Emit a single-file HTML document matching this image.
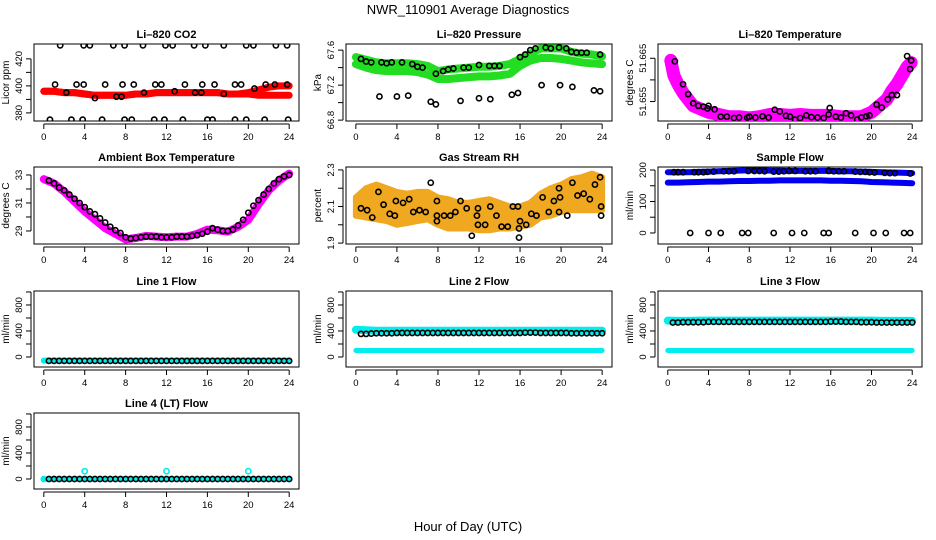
<!DOCTYPE html>
<html><head><meta charset="utf-8">
<style>
html,body{margin:0;padding:0;background:#fff;}
svg{display:block;font-family:"Liberation Sans",Arial,sans-serif;}
</style></head>
<body>
<svg id="chart" width="936" height="540" viewBox="0 0 936 540" xmlns="http://www.w3.org/2000/svg">
<text x="468" y="14" text-anchor="middle" font-size="13">NWR_110901  Average Diagnostics</text>
<text x="468" y="531" text-anchor="middle" font-size="13">Hour of Day (UTC)</text>
</svg>
<script>
// ---- data ----
const hours = [0,1,2,3,4,5,6,7,8,9,10,11,12,13,14,15,16,17,18,19,20,21,22,23,24];
const halfHours = [0.5,1,1.5,2,2.5,3,3.5,4,4.5,5,5.5,6,6.5,7,7.5,8,8.5,9,9.5,10,10.5,11,11.5,12,12.5,13,13.5,14,14.5,15,15.5,16,16.5,17,17.5,18,18.5,19,19.5,20,20.5,21,21.5,22,22.5,23,23.5,24];
const xTicks = [0,4,8,12,16,20,24];

const co2BandA = [396,396,395,395,394,393,393,393,393,394,394,395,395,395,395,395,395,395,394,394,395,397,399,400,400];
const co2BandB = [396,396,395,395,394,393,393,393,393,394,394,395,395,395,395,395,395,395,394,394,394,393,393,393,393];
const co2PtH = [1.6,3.9,4.5,6.8,7.9,9.7,11.9,12.6,14.7,15.8,17.6,19.8,20.5,22.7,23.8, 0.6,2.7,3.8,5.7,7.9,8.6,10.8,11.8,13.6,16,16.5,18.7,19.8,21.6,23.9, 1.1,2.2,3.2,3.9,5.0,6.0,7.1,7.6,7.7,8.8,9.8,10.9,11.5,12.8,13.8,14.8,15.4,15.5,16.7,17.6,18.7,19.3,20.6,21.7,22.6,23.8];
const co2PtV = [430,430,430,430,430,430,430,430,430,430,430,430,430,430,430, 375,375,375,375,375,375,375,375,375,375,375,375,375,375,375, 401,395,401,401,391,401,392,392,401,401,395,401,401,396,401,395,395,401,401,394,401,401,398,401,401,401];

const presUpper = [67.52,67.49,67.46,67.45,67.45,67.45,67.44,67.42,67.36,67.38,67.39,67.40,67.41,67.41,67.42,67.44,67.50,67.56,67.62,67.62,67.62,67.58,67.56,67.55,67.53];
const presLower = [67.44,67.40,67.37,67.36,67.36,67.36,67.35,67.32,67.27,67.27,67.28,67.29,67.30,67.30,67.31,67.33,67.42,67.48,67.51,67.51,67.50,67.48,67.46,67.45,67.44];
const presPtH = [0.5,1.0,1.5,2.5,3.0,3.5,4.5,5.5,6.0,6.5,7.8,8.5,9.0,9.5,10.5,11.0,12.0,13.0,13.5,14.0,16.0,16.5,17.0,17.5,18.5,19.0,19.8,20.5,21.0,21.5,22.0,22.5,23.8, 2.3,4.0,5.1,7.3,7.8,10.2,12.0,13.1,15.2,15.8,18.1,19.9,21.1,23.2,23.8];
const presPtV = [67.5,67.47,67.46,67.46,67.45,67.46,67.46,67.44,67.41,67.40,67.33,67.36,67.38,67.39,67.40,67.40,67.43,67.42,67.42,67.42,67.52,67.55,67.60,67.62,67.63,67.62,67.63,67.62,67.58,67.57,67.57,67.57,67.55, 67.07,67.07,67.08,67.01,66.98,67.02,67.05,67.04,67.09,67.11,67.20,67.20,67.18,67.14,67.13];

const tempH = [0.3,0.6,1,1.5,2,2.5,3,3.5,4,5,6,7,8,9,10,11,12,13,14,15,16,17,18,19,19.5,20,20.5,21,21.5,22,22.5,23,23.5,23.9];
const tempV = [51.6645,51.661,51.659,51.657,51.6555,51.654,51.6535,51.653,51.6525,51.652,51.6515,51.6515,51.6512,51.6515,51.652,51.652,51.6518,51.652,51.6518,51.6518,51.6518,51.6515,51.6515,51.6515,51.652,51.6525,51.6535,51.6545,51.6555,51.6575,51.659,51.661,51.663,51.664];
const tempPtH = [0.7,1.5,2.0,2.5,3.0,3.5,3.9,4.0,4.6,5.2,5.8,6.5,7.0,7.8,8.0,8.6,9.3,9.9,10.5,11.0,11.6,12.0,12.5,13.0,13.6,14.1,14.7,15.3,15.8,15.9,16.5,17.0,17.5,18.0,18.6,19.0,19.5,19.8,20.5,21.0,21.6,22.0,22.5,23.5,23.8,23.9];
const tempPtV = [51.6643,51.659,51.6567,51.6546,51.654,51.6538,51.6534,51.654,51.6532,51.6515,51.6515,51.6512,51.6513,51.6513,51.6515,51.6513,51.6516,51.6513,51.6531,51.6527,51.6517,51.6515,51.6508,51.6512,51.6518,51.6514,51.6513,51.6512,51.652,51.6535,51.6515,51.6513,51.6523,51.6518,51.6508,51.6513,51.6516,51.6518,51.6543,51.6536,51.6555,51.6565,51.6565,51.6655,51.6625,51.6645];

const ambV = [32.7,32.4,31.8,31.1,30.4,29.8,29.2,28.8,28.4,28.5,28.65,28.6,28.55,28.6,28.6,28.8,29.1,29.05,28.95,29.3,29.8,30.9,31.9,32.6,33.1];
const ambPtV = [32.6,32.4,32.1,31.9,31.6,31.3,31.0,30.7,30.4,30.2,29.9,29.6,29.3,29.05,28.85,28.55,28.45,28.5,28.55,28.6,28.6,28.6,28.55,28.55,28.55,28.6,28.6,28.6,28.65,28.7,28.8,28.95,29.2,29.1,29.0,29.0,29.1,29.4,29.8,30.3,30.8,31.2,31.6,32.0,32.4,32.7,32.9,33.0];

const rhUpper = [2.15,2.20,2.22,2.20,2.18,2.17,2.18,2.18,2.15,2.14,2.12,2.12,2.13,2.14,2.12,2.10,2.10,2.12,2.17,2.20,2.22,2.25,2.26,2.28,2.26];
const rhLower = [2.05,2.04,2.03,2.02,2.00,2.01,2.02,2.03,2.00,1.98,1.98,1.98,1.97,1.97,1.98,1.98,1.99,2.00,2.04,2.05,2.07,2.08,2.08,2.08,2.08];
const rhPtH = [0.5,1.1,1.6,2.2,2.7,3.3,3.8,3.9,4.6,5.2,5.6,6.2,6.8,7.3,7.9,7.9,7.9,8.6,9.2,9.7,10.2,10.8,11.3,11.8,11.9,11.9,12.6,13.1,13.7,14.2,14.8,15.3,15.8,15.9,16.0,15.9,16.6,17.1,17.6,18.2,18.8,19.3,19.8,19.9,19.8,20.6,21.1,21.6,22.2,22.8,23.3,23.8,23.9,23.9];
const rhPtV = [2.09,2.08,2.04,2.18,2.11,2.06,2.05,2.13,2.12,2.14,2.07,2.08,2.07,2.23,2.13,2.05,2.02,2.05,2.05,2.07,2.13,2.09,1.94,2.05,2.09,2.00,2.00,2.10,2.05,1.99,1.99,2.10,2.10,1.98,2.02,1.93,2.00,2.06,2.05,2.15,2.07,2.13,2.20,2.15,2.07,2.05,2.23,2.16,2.17,2.14,2.22,2.26,2.10,2.05];

const sfUpper = [193,193,193,194,195,196,197,198,199,199,198,198,197,197,197,197,197,196,196,195,194,193,192,191,190];
const sfLower = [160,160,161,162,163,163,164,165,165,166,166,167,167,167,167,167,166,166,165,164,162,161,160,159,158];
const sfPtH = [0.6,1.0,1.5,2.6,3.0,3.5,3.9,4.5,5.5,6.0,6.5,7.9,8.5,9.0,9.5,10.4,10.9,11.4,11.9,12.5,13.5,14.0,14.5,15.8,16.3,16.8,17.3,18.4,18.9,19.4,19.8,20.3,21.3,21.8,22.3,23.8, 2.2,4.0,5.2,7.3,7.9,10.4,12.2,13.4,15.3,15.8,18.4,20.2,21.4,23.2,23.8];
const sfPtV = [193,193,193,193,193,193,194,195,196,196,196,197,197,197,196,195,195,196,197,197,196,196,196,197,196,196,196,195,194,194,193,192,191,190,190,189, 0,0,0,0,0,0,0,0,0,0,0,0,0,0,0];

const l1Cyan = [-55,-55,-55,-55,-55,-55,-55,-55,-55,-55,-55,-55,-55,-55,-55,-55,-55,-55,-55,-55,-55,-55,-55,-55,-55];
const l1Black = [-60,-60,-60,-60,-60,-60,-60,-60,-60,-60,-60,-60,-60,-60,-60,-60,-60,-60,-60,-60,-60,-60,-60,-60,-60,-60,-60,-60,-60,-60,-60,-60,-60,-60,-60,-60,-60,-60,-60,-60,-60,-60,-60,-60,-60,-60,-60,-60];
const l2CyanHi = [420,410,405,405,405,405,405,405,405,405,405,405,405,405,405,405,405,405,405,405,405,405,405,405,405];
const l2CyanLo = [100,100,100,100,100,100,100,100,100,100,100,100,100,100,100,100,100,100,100,100,100,100,100,100,100];
const l2Black = [355,355,360,365,365,365,365,370,370,370,370,370,370,370,370,370,370,370,370,370,370,370,370,370,370,370,370,370,370,370,370,370,375,375,375,370,370,370,370,370,370,365,365,365,365,365,365,365];
const l3CyanHi = [560,555,555,560,560,560,560,560,560,560,560,560,560,560,560,560,560,560,560,560,560,555,555,555,555];
const l3CyanLo = [100,100,100,100,100,100,100,100,100,100,100,100,100,100,100,100,100,100,100,100,100,100,100,100,100];
const l3Black = [530,530,535,535,535,535,535,540,540,540,540,540,540,540,540,540,540,540,540,540,540,540,540,540,540,540,540,540,540,540,540,545,545,545,540,540,540,535,535,535,530,530,530,530,530,530,530,530];
const l4Cyan = [0,0,0,0,0,0,0,0,0,0,0,0,0,0,0,0,0,0,0,0,0,0,0,0,0];
const l4OutH = [0,4,12,20];
const l4OutV = [0,120,120,120];
const l4Black = [0,0,0,0,0,0,0,0,0,0,0,0,0,0,0,0,0,0,0,0,0,0,0,0,0,0,0,0,0,0,0,0,0,0,0,0,0,0,0,0,0,0,0,0,0,0,0,0];

// ---- drawing ----
const NS = "http://www.w3.org/2000/svg";
const svg = document.getElementById('chart');
const cols = [[34,299],[346,612],[658,922]];
const rows = [[44,121],[167,244],[291,367],[413,489]];

function mk(tag, attrs, parent){
  const e = document.createElementNS(NS, tag);
  for (const k in attrs) e.setAttribute(k, attrs[k]);
  (parent||svg).appendChild(e);
  return e;
}

function panel(id, col, row, title, ylab, ymin, ymax, yTicks, yLabels){
  const [L,R] = cols[col], [T,B] = rows[row];
  const g = mk('g', {});
  
  
  const xs = h => L + (h + 0.96) / 25.92 * (R - L);
  const ys = v => B - (v - ymin) / (ymax - ymin) * (B - T);
  const t = mk('text', {x:(L+R)/2, y:T-6, 'text-anchor':'middle', 'font-size':11, 'font-weight':'bold'}, g);
  t.textContent = title;
  
  
  const box = mk('rect', {x:L, y:T, width:R-L, height:B-T, fill:'none', stroke:'#000', 'stroke-width':1}, g);
  
  
  // x axis
  const xa = mk('g', {}, g);
  
  
  const ax = B + 3;
  mk('line', {x1:xs(xTicks[0]), x2:xs(xTicks[xTicks.length-1]), y1:ax, y2:ax, stroke:'#000'}, xa);
  xTicks.forEach(v => {
    mk('line', {x1:xs(v), x2:xs(v), y1:ax, y2:ax+5, stroke:'#000'}, xa);
    const tl = mk('text', {x:xs(v), y:ax+16, 'text-anchor':'middle', 'font-size':9.5}, xa);
    tl.textContent = v;
    
    
  });
  // y axis
  const ya = mk('g', {}, g);
  
  
  const axx = L - 3;
  mk('line', {x1:axx, x2:axx, y1:ys(yTicks[0]), y2:ys(yTicks[yTicks.length-1]), stroke:'#000'}, ya);
  yTicks.forEach(v => mk('line', {x1:axx, x2:axx-5, y1:ys(v), y2:ys(v), stroke:'#000'}, ya));
  yLabels.forEach(v => {
    const yy = ys(parseFloat(v)), xx = axx - 9;
    const tl = mk('text', {x:xx, y:yy, 'text-anchor':'middle', 'font-size':9.5, transform:`rotate(-90 ${xx} ${yy})`}, ya);
    tl.textContent = v;
    
    
  });
  const yt = mk('text', {x:L-25, y:(T+B)/2, 'text-anchor':'middle', 'font-size':10, transform:`rotate(-90 ${L-25} ${(T+B)/2})`}, g);
  yt.textContent = ylab;
  
  
  const clip = mk('clipPath', {id:'clip-'+id}, g);
  mk('rect', {x:L, y:T, width:R-L, height:B-T}, clip);
  const plot = mk('g', {'clip-path':`url(#clip-${id})`}, g);
  return {xs, ys, g:plot, id};
}

function band(p, xsArr, vals, color, width, name){
  const pts = xsArr.map((h,i) => p.xs(h).toFixed(1) + ',' + p.ys(vals[i]).toFixed(1)).join(' ');
  const e = mk('polyline', {points:pts, fill:'none', stroke:color, 'stroke-width':width, 'stroke-linejoin':'round', 'stroke-linecap':'round'}, p.g);
  
  
}
function area(p, xsArr, hi, lo, color, name){
  const a = xsArr.map((h,i) => p.xs(h).toFixed(1)+','+p.ys(hi[i]).toFixed(1));
  const b = xsArr.map((h,i) => p.xs(h).toFixed(1)+','+p.ys(lo[i]).toFixed(1)).reverse();
  const e = mk('polygon', {points:a.concat(b).join(' '), fill:color, stroke:color, 'stroke-width':6, 'stroke-linejoin':'round'}, p.g);
  
  
}
function circles(p, xsArr, vals, color, name, r){
  const gg = mk('g', {}, p.g);
  
  
  xsArr.forEach((h,i) => {
    const c = mk('circle', {cx:p.xs(h), cy:p.ys(vals[i]), r:r||2.6, fill:'none', stroke:color, 'stroke-width':1.6}, gg);
    
    
  });
}

const flowTicks = [0,200,400,600,800,1000], flowLabels = ['0','400','800'];

// CO2
let p = panel('co2', 0, 0, 'Li–820 CO2', 'Licor ppm', 374, 431, [380,390,400,410,420], ['380','400','420']);
band(p, hours, co2BandB, '#ff0000', 7, 'co2-band-lower');
band(p, hours, co2BandA, '#ff0000', 7, 'co2-band');
circles(p, co2PtH, co2PtV, '#000', 'co2-average');

// Pressure
p = panel('pressure', 1, 0, 'Li–820 Pressure', 'kPa', 66.79, 67.67, [66.8,67.0,67.2,67.4,67.6], ['66.8','67.2','67.6']);
band(p, hours, presLower, '#22dd22', 8, 'pressure-band-lower');
band(p, hours, presUpper, '#22dd22', 8, 'pressure-band-upper');
circles(p, presPtH, presPtV, '#000', 'pressure-average');

// Temperature
p = panel('li820-temp', 2, 0, 'Li–820 Temperature', 'degrees C', 51.6505, 51.6683, [51.655,51.660,51.665], ['51.655','51.665']);
band(p, tempH, tempV, '#ff00ff', 13, 'li820-temp-band');
circles(p, tempPtH, tempPtV, '#000', 'li820-temp-average');

// Ambient
p = panel('ambient-temp', 0, 1, 'Ambient Box Temperature', 'degrees C', 28.07, 33.57, [29,30,31,32,33], ['29','31','33']);
band(p, hours, ambV, '#ff00ff', 8, 'ambient-band');
circles(p, halfHours, ambPtV, '#000', 'ambient-average');

// RH
p = panel('rh', 1, 1, 'Gas Stream RH', 'percent', 1.895, 2.316, [1.9,2.0,2.1,2.2,2.3], ['1.9','2.1','2.3']);
area(p, hours, rhUpper, rhLower, '#f0a820', 'rh-band');
circles(p, rhPtH, rhPtV, '#000', 'rh-average');

// Sample flow
p = panel('sample-flow', 2, 1, 'Sample Flow', 'ml/min', -35, 209.5, [0,50,100,150,200], ['0','100','200']);
band(p, hours, sfLower, '#0000ee', 6, 'sample-flow-band-lower');
band(p, hours, sfUpper, '#0000ee', 6, 'sample-flow-band-upper');
circles(p, sfPtH, sfPtV, '#000', 'sample-flow-average');

// Line 1
p = panel('line1', 0, 2, 'Line 1 Flow', 'ml/min', -154, 1015, flowTicks, flowLabels);
band(p, hours, l1Cyan, '#00eeee', 6, 'line1-band');
circles(p, halfHours, l1Black, '#000', 'line1-average');

// Line 2
p = panel('line2', 1, 2, 'Line 2 Flow', 'ml/min', -154, 1015, flowTicks, flowLabels);
band(p, hours, l2CyanLo, '#00eeee', 5, 'line2-band-lower');
band(p, hours, l2CyanHi, '#00eeee', 8, 'line2-band-upper');
circles(p, halfHours, l2Black, '#000', 'line2-average');

// Line 3
p = panel('line3', 2, 2, 'Line 3 Flow', 'ml/min', -154, 1015, flowTicks, flowLabels);
band(p, hours, l3CyanLo, '#00eeee', 5, 'line3-band-lower');
band(p, hours, l3CyanHi, '#00eeee', 8, 'line3-band-upper');
circles(p, halfHours, l3Black, '#000', 'line3-average');

// Line 4
p = panel('line4', 0, 3, 'Line 4 (LT) Flow', 'ml/min', -154, 1015, flowTicks, flowLabels);
band(p, hours, l4Cyan, '#00eeee', 5, 'line4-band');
circles(p, l4OutH, l4OutV, '#00eeee', 'line4-outliers');
circles(p, halfHours, l4Black, '#000', 'line4-average');
</script>
</body></html>
